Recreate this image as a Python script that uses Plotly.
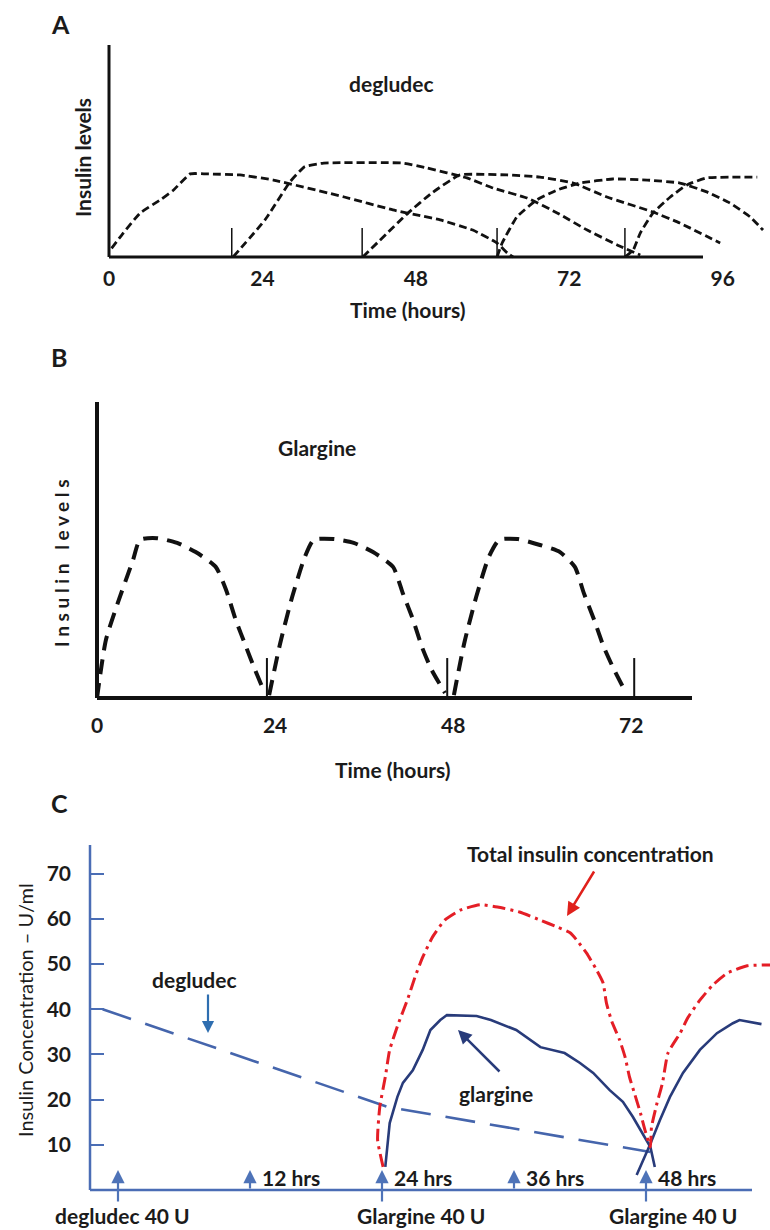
import plotly.graph_objects as go

W, H = 770, 1230
FONT = "Lato, 'Open Sans', sans-serif"
INK = "#1b1b1b"

# ---------------- Panel A: degludec (hours, relative insulin level) ----------------
a_tick_hours = [0, 24, 48, 72, 96]
a_tick_text = ["0", "24", "48", "72", "96"]
a_dose_hours = [19.2, 39.6, 60.7, 80.7]
a_dose_mark = 13.7

a1_h = [0.4, 2.2, 4.9, 8.0, 10.1, 12.7, 15.3, 20.5, 25.7, 36.8, 44.4, 49.0, 51.8, 56.9, 60.7, 62.3, 63.2]
a1_l = [4.1, 11.2, 20.8, 26.9, 31.6, 39.2, 39.2, 38.7, 36.3, 28.3, 22.2, 19.3, 17.5, 12.7, 6.6, 1.9, 0.0]
a2_h = [19.4, 24.4, 28.3, 30.6, 33.6, 46.0, 49.7, 56.0, 60.1, 65.4, 70.1, 74.8, 79.5, 83.1]
a2_l = [0.0, 17.5, 35.4, 42.6, 44.3, 44.3, 42.0, 37.3, 32.5, 27.8, 20.8, 12.7, 5.7, 0.9]
a3_h = [39.7, 46.8, 50.5, 54.9, 62.3, 67.4, 72.6, 77.9, 85.1, 89.3, 95.6]
a3_l = [0.0, 20.8, 30.2, 38.7, 38.7, 37.7, 34.9, 28.3, 21.2, 16.0, 6.6]
a4_h = [60.7, 61.5, 63.8, 66.9, 70.1, 73.7, 78.8, 84.2, 89.3, 93.5, 97.1, 100.3, 102.3]
a4_l = [0.0, 6.6, 18.9, 26.9, 31.6, 34.9, 36.8, 36.3, 34.9, 30.7, 25.5, 18.9, 12.7]
a5_h = [80.7, 82.0, 83.1, 85.1, 87.8, 90.4, 93.5, 101.4]
a5_l = [0.0, 3.3, 11.3, 20.8, 28.3, 34.0, 37.3, 37.7]

# ---------------- Panel B: glargine ----------------
b_tick_hours = [0, 24, 48, 72]
b_tick_text = ["0", "24", "48", "72"]
b_dose_hours = [22.9, 47.2, 72.4]
b_dose_mark = 13.5

b1_h = [0.0, 1.2, 2.8, 4.85, 5.8, 8.1, 10.8, 13.3, 16.0, 17.4, 18.7, 20.1, 21.3, 22.6]
b1_l = [0.0, 19.6, 32.1, 46.6, 53.4, 54.0, 52.4, 49.3, 44.3, 36.5, 26.4, 17.2, 9.5, 1.7]
b2_h = [23.2, 24.7, 26.3, 28.0, 29.2, 31.9, 34.6, 37.2, 39.9, 41.2, 42.6, 43.8, 45.1, 46.9]
b2_l = [1.0, 18.6, 34.1, 47.6, 53.4, 53.7, 52.4, 49.3, 44.3, 35.5, 26.4, 17.2, 9.5, 1.7]
b3_h = [48.1, 49.5, 51.1, 52.8, 54.2, 56.7, 59.7, 62.4, 64.4, 65.6, 67.0, 68.3, 69.7, 71.3]
b3_l = [1.0, 18.6, 34.1, 47.6, 53.4, 53.7, 51.7, 49.3, 44.3, 35.5, 26.4, 17.2, 9.5, 1.7]

# ---------------- Panel C: insulin concentration (U/ml) ----------------
c_yticks = [10, 20, 30, 40, 50, 60, 70]
c_deg_h = [-1.4, 24.5, 48.4]
c_deg_v = [40.0, 18.4, 8.4]
c_gla1_h = [24.3, 24.7, 25.4, 25.9, 26.8, 27.7, 28.4, 29.3, 29.9, 32.6, 33.9, 36.2, 38.4, 40.6,
            42.0, 43.2, 44.7, 45.9, 46.8, 47.7, 48.4, 48.8]
c_gla1_v = [5.1, 14.8, 20.6, 23.7, 26.5, 31.0, 35.4, 37.6, 38.7, 38.5, 37.6, 35.4, 31.6, 30.3,
            28.1, 25.9, 22.1, 19.5, 16.2, 12.6, 9.5, 5.1]
c_gla2_h = [47.15, 48.36, 49.27, 50.18, 51.36, 52.9, 54.45, 55.9, 56.5, 57.45, 58.5]
c_gla2_v = [3.3, 10.0, 15.5, 20.6, 25.9, 31.0, 34.7, 36.9, 37.6, 37.2, 36.7]
c_tot_h = [24.1, 23.6, 23.8, 24.3, 24.7, 25.5, 26.3, 27.0, 27.7, 28.6, 29.7, 31.1, 32.9, 34.5,
           36.5, 38.4, 39.9, 41.1, 41.7, 42.6, 43.5, 44.1, 44.4, 44.9, 45.6, 46.1, 46.5, 47.0,
           47.5, 47.9, 48.4, 48.5, 49.0, 49.5, 50.0, 51.1, 51.8, 52.9, 54.1, 55.4, 57.2, 59.3]
c_tot_v = [5.1, 11.1, 18.4, 25.0, 31.0, 36.9, 42.0, 47.1, 51.5, 56.0, 59.7, 61.9, 63.1, 62.6,
           61.5, 59.7, 58.2, 56.9, 55.3, 52.4, 48.7, 45.8, 41.4, 37.2, 33.2, 29.4, 25.0, 21.0,
           17.0, 13.3, 9.5, 13.9, 19.2, 23.7, 30.3, 34.7, 38.1, 42.0, 45.4, 48.0, 49.6, 49.8]
c_mark_hours = [0, 12, 24, 36, 48]
c_mark_text = ["", "12 hrs", "24 hrs", "36 hrs", "48 hrs"]
c_dose_hours = [0, 24, 48]
c_dose_text = ["degludec 40 U", "Glargine 40 U", "Glargine 40 U"]

# ---------------- geometry (pixel mapping of each panel) ----------------
PAN = {
    "A": dict(x0=109, sx=6.393, y0=257, sy=2.12, box=(100, 770, 40, 262)),
    "B": dict(x0=97, sx=7.42, y0=698, sy=2.96, box=(88, 770, 395, 705)),
    "C": dict(x0=118, sx=11.0, y0=1190, sy=4.52, box=(80, 770, 835, 1205)),
}


def dom(p):
    x0p, x1p, y0p, y1p = p["box"]
    return [x0p / W, x1p / W], [1 - y1p / H, 1 - y0p / H]


def rng(p):
    x0p, x1p, y0p, y1p = p["box"]
    return ([(x0p - p["x0"]) / p["sx"], (x1p - p["x0"]) / p["sx"]],
            [(p["y0"] - y1p) / p["sy"], (p["y0"] - y0p) / p["sy"]])


def dx(p, px):
    return (px - p["x0"]) / p["sx"]


def dy(p, py):
    return (p["y0"] - py) / p["sy"]


def P(px, py):
    return px / W, 1 - py / H


fig = go.Figure()

# Panel A curves
for hh, ll in [(a1_h, a1_l), (a2_h, a2_l), (a3_h, a3_l), (a4_h, a4_l), (a5_h, a5_l)]:
    fig.add_trace(go.Scatter(x=hh, y=ll, mode="lines", xaxis="x", yaxis="y",
                             line=dict(color="#111111", width=2.8, dash="8px,4px", shape="spline", smoothing=0.4),
                             hoverinfo="skip"))
mx, my = [], []
for d in a_dose_hours:
    mx += [d, d, None]
    my += [0, a_dose_mark, None]
fig.add_trace(go.Scatter(x=mx, y=my, mode="lines", xaxis="x", yaxis="y",
                         line=dict(color="#111111", width=1.5), hoverinfo="skip"))

# Panel B curves
for hh, ll in [(b1_h, b1_l), (b2_h, b2_l), (b3_h, b3_l)]:
    fig.add_trace(go.Scatter(x=hh, y=ll, mode="lines", xaxis="x2", yaxis="y2",
                             line=dict(color="#111111", width=4, dash="15px,9px", shape="spline", smoothing=0.6),
                             hoverinfo="skip"))
mx, my = [], []
for d in b_dose_hours:
    mx += [d, d, None]
    my += [0, b_dose_mark, None]
fig.add_trace(go.Scatter(x=mx, y=my, mode="lines", xaxis="x2", yaxis="y2",
                         line=dict(color="#111111", width=2), hoverinfo="skip"))

# Panel C curves
fig.add_trace(go.Scatter(x=c_deg_h, y=c_deg_v, mode="lines", xaxis="x3", yaxis="y3",
                         line=dict(color="#4565AC", width=2.6, dash="30px,15px"), hoverinfo="skip"))
for hh, vv in [(c_gla1_h, c_gla1_v), (c_gla2_h, c_gla2_v)]:
    fig.add_trace(go.Scatter(x=hh, y=vv, mode="lines", xaxis="x3", yaxis="y3",
                             line=dict(color="#283B7A", width=2.6),
                             hoverinfo="skip"))
fig.add_trace(go.Scatter(x=c_tot_h, y=c_tot_v, mode="lines", xaxis="x3", yaxis="y3",
                         line=dict(color="#E41E26", width=3, dash="13px,5px,3px,5px", shape="spline", smoothing=0.5),
                         hoverinfo="skip"))

A, B, C = PAN["A"], PAN["B"], PAN["C"]
axA, ayA = rng(A)
axB, ayB = rng(B)
axC, ayC = rng(C)
dAx, dAy = dom(A)
dBx, dBy = dom(B)
dCx, dCy = dom(C)

FS = 21
tickfont = dict(family=FONT, size=FS, color=INK, weight="bold")

shapes = [
    # A axes
    dict(type="line", xref="x", yref="y", x0=0, x1=0, y0=0, y1=dy(A, 45), line=dict(color="#111111", width=3)),
    dict(type="line", xref="x", yref="y", x0=0, x1=dx(A, 703), y0=0, y1=0, line=dict(color="#111111", width=3)),
    # B axes
    dict(type="line", xref="x2", yref="y2", x0=0, x1=0, y0=0, y1=dy(B, 402), line=dict(color="#111111", width=4)),
    dict(type="line", xref="x2", yref="y2", x0=0, x1=dx(B, 692), y0=0, y1=0, line=dict(color="#111111", width=4)),
    # C axes
    dict(type="line", xref="x3", yref="y3", x0=dx(C, 90), x1=dx(C, 90), y0=0, y1=dy(C, 845),
         line=dict(color="#4A6DB5", width=2.5)),
    dict(type="line", xref="x3", yref="y3", x0=dx(C, 90), x1=dx(C, 752), y0=0, y1=0,
         line=dict(color="#4A6DB5", width=2.5)),
]

ann = []


def text(px, py, s, size=FS, angle=0, weight="bold", xanchor="center", color=INK):
    x, y = P(px, py)
    ann.append(dict(x=x, y=y, xref="paper", yref="paper", text=s, showarrow=False, textangle=angle,
                    xanchor=xanchor, yanchor="middle",
                    font=dict(family=FONT, size=size, color=color, weight=weight)))


# Panel A texts
text(60, 24, "A", size=25)
text(392, 83, "degludec")
text(83, 158, "Insulin levels", angle=-90)
text(408, 310, "Time (hours)")
# Panel B texts
text(59, 357, "B", size=25)
text(317, 447, "Glargine")
text(61, 563, "I n s u l i n&nbsp;&nbsp; l e v e l s", angle=-90, size=19)
text(393, 769, "Time (hours)")
# Panel C texts
text(59, 803, "C", size=25)
text(25, 1010, "Insulin Concentration – U/ml", angle=-90, weight="normal", size=20)
text(590, 853, "Total insulin concentration")
text(195, 979, "degludec")
text(496, 1093, "glargine")

# C hour markers (blue up arrows) and labels
for hrs, lab in zip(c_mark_hours, c_mark_text):
    tail = -2.9 if hrs in c_dose_hours else 0
    ann.append(dict(x=hrs, y=dy(C, 1170), ax=hrs, ay=tail, xref="x3", yref="y3", axref="x3", ayref="y3",
                    text="", showarrow=True, arrowhead=2, arrowsize=1.2, arrowwidth=2.2,
                    arrowcolor="#4E73B8", standoff=0, startstandoff=0))
    if lab:
        ann.append(dict(x=hrs, y=dy(C, 1177), xref="x3", yref="y3", text=lab, showarrow=False,
                        xanchor="left", yanchor="middle", xshift=10,
                        font=dict(family=FONT, size=FS, color=INK, weight="bold")))
dose_px = [122, 421, 673]
for hrs, lab, cx in zip(c_dose_hours, c_dose_text, dose_px):
    x, y = P(cx, 1215)
    ann.append(dict(x=x, y=y, xref="paper", yref="paper", text=lab, showarrow=False,
                    xanchor="center", yanchor="middle",
                    font=dict(family=FONT, size=FS, color=INK, weight="bold")))

# C pointer arrows
pointers = [
    ((208, 1033), (208, 993), "#2E6EB0", 2.2),   # degludec
    ((458, 1030), (501, 1073), "#283B7A", 2.5),  # glargine
    ((567, 916), (595, 870), "#E0201B", 2.5),    # total
]
for (tx, ty), (sx_, sy_), col, wdt in pointers:
    ann.append(dict(x=dx(C, tx), y=dy(C, ty), ax=dx(C, sx_), ay=dy(C, sy_), xref="x3", yref="y3",
                    axref="x3", ayref="y3", text="", showarrow=True, arrowhead=2, arrowsize=1.1,
                    arrowwidth=wdt, arrowcolor=col, standoff=0))

fig.update_layout(
    width=W, height=H, margin=dict(l=0, r=0, t=0, b=0),
    paper_bgcolor="white", plot_bgcolor="rgba(0,0,0,0)", showlegend=False,
    xaxis=dict(domain=dAx, range=axA, anchor="y", showgrid=False, zeroline=False, showline=False,
               ticks="", tickvals=a_tick_hours, ticktext=a_tick_text, tickfont=tickfont,
               ticklabelstandoff=2),
    yaxis=dict(domain=dAy, range=ayA, anchor="x", visible=False),
    xaxis2=dict(domain=dBx, range=axB, anchor="y2", showgrid=False, zeroline=False, showline=False,
                ticks="", tickvals=b_tick_hours, ticktext=b_tick_text, tickfont=tickfont,
                ticklabelstandoff=6),
    yaxis2=dict(domain=dBy, range=ayB, anchor="x2", visible=False),
    xaxis3=dict(domain=dCx, range=axC, anchor="y3", visible=False),
    yaxis3=dict(domain=dCy, range=ayC, anchor="free", position=90 / W, showgrid=False, zeroline=False,
                showline=False, ticks="inside", ticklen=13, tickwidth=1.5, tickcolor="#4A6DB5",
                tickvals=c_yticks, tickfont=tickfont, ticklabelstandoff=19),
    shapes=shapes, annotations=ann,
)

fig.write_html("out.html", config={"displayModeBar": False},
               post_script="document.body.style.margin='0';document.body.style.padding='0';")
